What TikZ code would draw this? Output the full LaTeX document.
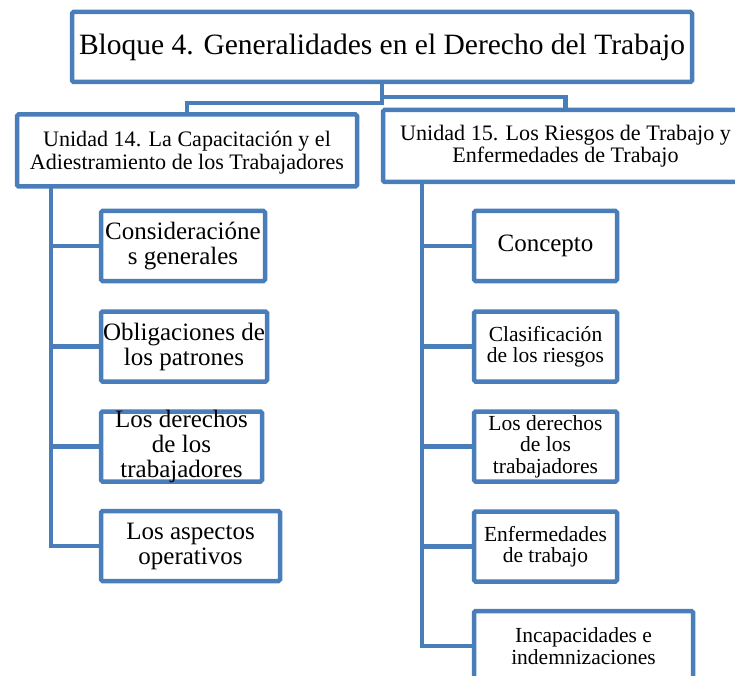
\documentclass[tikz,border=0pt]{standalone}
\usepackage{fontspec}
\setmainfont{Liberation Serif}
\usetikzlibrary{positioning}
\definecolor{chartblue}{RGB}{74,126,187}

\tikzset{
  chart/.style={draw=chartblue, line width=4.5pt, rounded corners=1.5pt, fill=white, inner sep=0pt},
  bloque/.style={chart, minimum width=620pt, minimum height=70pt, font=\fontsize{29.5}{32}\selectfont},
  unidad/.style={chart, minimum height=72pt},
  tema/.style={chart, minimum height=70pt},
  lbl/.style={align=center, inner sep=0pt, text=black},
  unitxt/.style={lbl, font=\fontsize{22.1}{22.5}\selectfont},
  lefttxt/.style={lbl, font=\fontsize{25}{25}\selectfont},
  righttxt/.style={lbl, font=\fontsize{21.5}{21.5}\selectfont},
  link/.style={draw=chartblue, line width=4.5pt}
}

\begin{document}
\begin{tikzpicture}[x=1pt, y=-1pt]
  \useasboundingbox (0,0) rectangle (735,676);
  \clip (0,0) rectangle (735,676);

  % Bloque
  \node[bloque] (bloque) at (382,47) {Bloque 4. Generalidades en el Derecho del Trabajo};

  % Unidades
  \node[unidad, minimum width=340pt,
    label={[unitxt, yshift=-2pt]center:Unidad 14. La Capacitación y el\\Adiestramiento de los Trabajadores}]
    (u14) at (187,150.5) {};
  \node[unidad, minimum width=365pt,
    label={[unitxt]center:Unidad 15. Los Riesgos de Trabajo y\\Enfermedades de Trabajo}]
    (u15) at (565.5,146) {};

  % Temas unidad 14
  \node[tema, minimum width=164pt, label={[lefttxt]center:Consideracióne\\s generales}] (c11) at (183,246) {};
  \node[tema, minimum width=166pt, label={[lefttxt]center:Obligaciones de\\los patrones}] (c12) at (184,346.5) {};
  \node[tema, minimum width=161pt, label={[lefttxt]center:Los derechos\\de los\\trabajadores}] (c13) at (181.5,446.5) {};
  \node[tema, minimum width=179pt, label={[lefttxt]center:Los aspectos\\operativos}] (c14) at (190.5,546) {};

  % Temas unidad 15
  \node[tema, minimum width=143pt, label={[lbl, font=\fontsize{25}{25}\selectfont]center:Concepto}] (c21) at (545.5,246) {};
  \node[tema, minimum width=143pt, label={[righttxt]center:Clasificación\\de los riesgos}] (c22) at (545.5,346.5) {};
  \node[tema, minimum width=143pt, label={[righttxt]center:Los derechos\\de los\\trabajadores}] (c23) at (545.5,446.5) {};
  \node[tema, minimum width=143pt, label={[righttxt]center:Enfermedades\\de trabajo}] (c24) at (545.5,546.5) {};
  \node[tema, minimum width=219pt, label={[righttxt]center:Incapacidades e\\indemnizaciones}] (c25) at (583.5,646) {};

  % Conectores
  \draw[link] (bloque.south) -- ++(0,19) -| (u14.north);
  \draw[link] (bloque.south) -- ++(0,13) -| (u15.north);

  \coordinate (trunk14) at (51,187);
  \coordinate (trunk15) at (422,182);
  \foreach \c in {c11,c12,c13,c14}
    \draw[link] (trunk14) |- (\c.west);
  \foreach \c in {c21,c22,c23,c24,c25}
    \draw[link] (trunk15) |- (\c.west);
\end{tikzpicture}
\end{document}
